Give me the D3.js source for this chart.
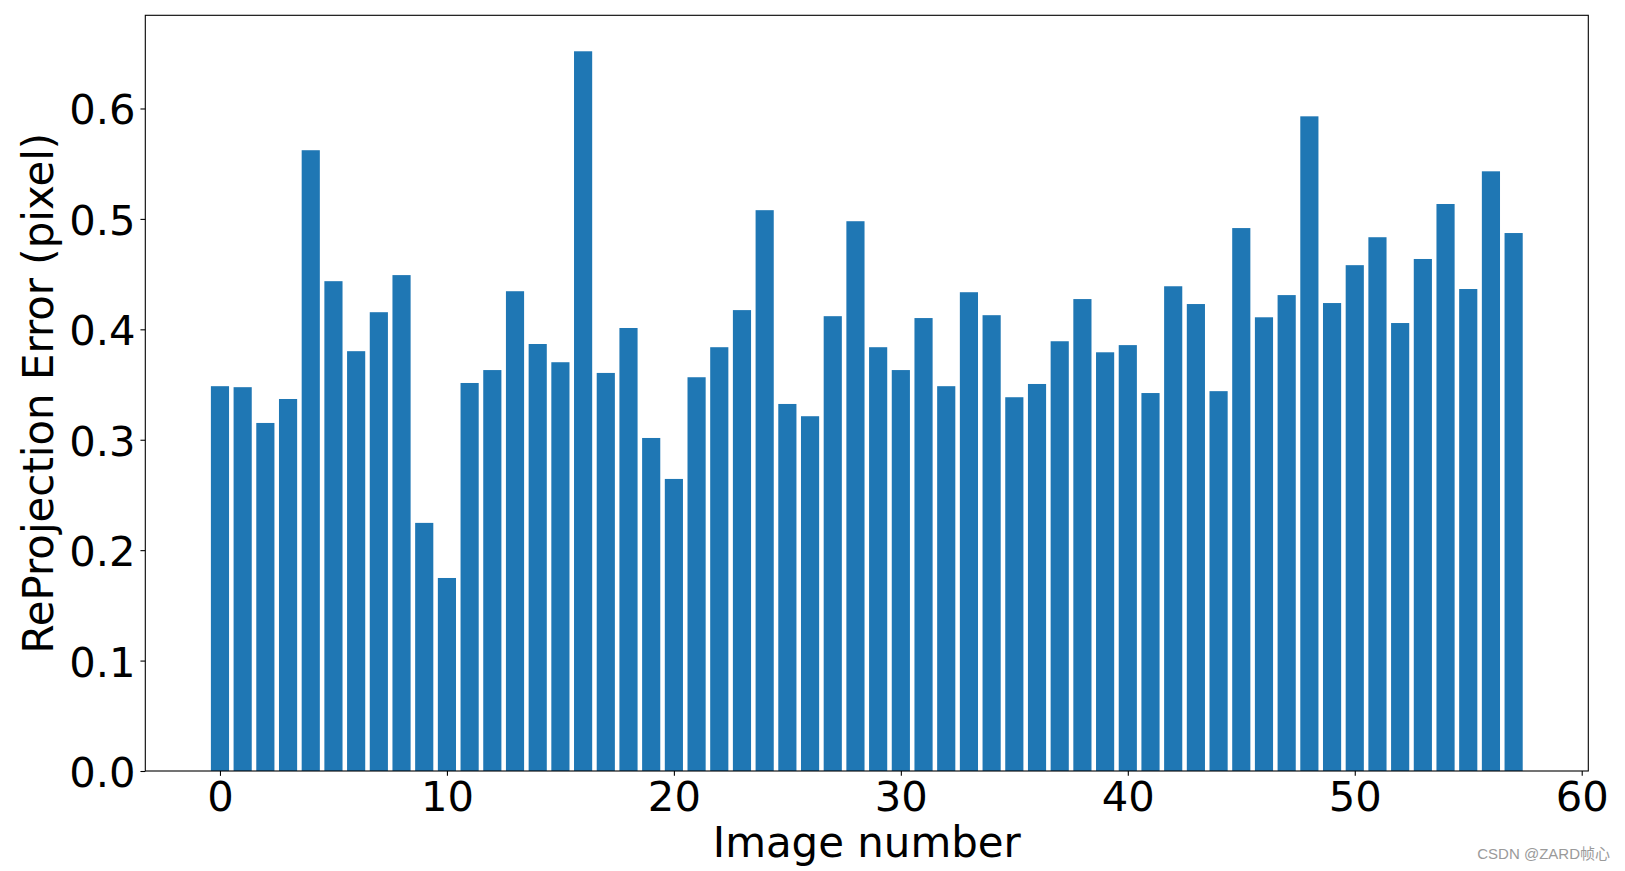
<!DOCTYPE html>
<html>
<head>
<meta charset="utf-8">
<script src="https://cdn.jsdelivr.net/npm/d3@7"></script>
<style>
	body { margin: 0; background: white; }
	text { font-family: "DejaVu Sans", sans-serif; }
</style>
</head>
<body>
<script>
/* Data */
var imageNumbers = d3.range(58);
var reprojErrors = [
	0.3485, 0.3476, 0.3152, 0.3369, 0.5622, 0.4436, 0.3802, 0.4155, 0.4491, 0.2247,
	0.1748, 0.3514, 0.3631, 0.4345, 0.3867, 0.3702, 0.6518, 0.3605, 0.4012, 0.3016,
	0.2645, 0.3566, 0.3838, 0.4174, 0.5079, 0.3324, 0.3213, 0.4119, 0.4979, 0.3838,
	0.3631, 0.4102, 0.3485, 0.4336, 0.4128, 0.3385, 0.3505, 0.3892, 0.4274, 0.3792,
	0.3857, 0.3423, 0.4390, 0.4229, 0.3440, 0.4917, 0.4109, 0.4310, 0.5929, 0.4238,
	0.4581, 0.4834, 0.4057, 0.4637, 0.5135, 0.4365, 0.5431, 0.4872
];
var xTicks = [0, 10, 20, 30, 40, 50, 60];
var yTicks = [0, 0.1, 0.2, 0.3, 0.4, 0.5, 0.6];

/* Display setup */
var displayArea = {width: 1625, height: 871},
	plot = {left: 145.3, right: 1588.3, top: 15.3, bottom: 771},
	barWidth = 0.8,
	tickLen = 4.86,
	tickFont = 41.7,
	labelFont = 41.9,
	svg = d3.select("body").append("svg")
		.attr("width", displayArea.width)
		.attr("height", displayArea.height);

// matplotlib style 5% margins around the data
var xLo = -barWidth / 2, xHi = imageNumbers.length - 1 + barWidth / 2,
	xPad = (xHi - xLo) * 0.05,
	x = d3.scaleLinear()
		.domain([xLo - xPad, xHi + xPad])
		.range([plot.left, plot.right]),
	y = d3.scaleLinear()
		.domain([0, d3.max(reprojErrors) * 1.05])
		.range([plot.bottom, plot.top]);

/* Bars */
svg.append("g")
	.selectAll("rect")
	.data(reprojErrors)
	.enter().append("rect")
		.attr("x", function(d, i) { return x(imageNumbers[i] - barWidth / 2); })
		.attr("y", function(d) { return y(d); })
		.attr("width", function(d, i) { return x(imageNumbers[i] + barWidth / 2) - x(imageNumbers[i] - barWidth / 2); })
		.attr("height", function(d) { return y(0) - y(d); })
		.style("fill", "#1f77b4");

/* Axes */
var xAxis = svg.append("g")
	.attr("transform", "translate(0," + plot.bottom + ")")
	.call(d3.axisBottom(x).tickValues(xTicks).tickSize(tickLen).tickPadding(tickLen).tickFormat(d3.format("d")));

var yAxis = svg.append("g")
	.attr("transform", "translate(" + plot.left + ",0)")
	.call(d3.axisLeft(y).tickValues(yTicks).tickSize(tickLen).tickPadding(tickLen).tickFormat(d3.format(".1f")));

[xAxis, yAxis].forEach(function(a) {
	a.select(".domain").remove();
	a.selectAll("line").style("stroke", "black").style("stroke-width", 1.1);
	a.selectAll("text")
		.style("font-size", tickFont + "px")
		.style("font-family", "'DejaVu Sans', sans-serif")
		.style("fill", "black");
});
xAxis.selectAll("text").attr("dy", "0.73em");
yAxis.selectAll("text").attr("dy", "0.37em");

// frame
svg.append("rect")
	.attr("x", plot.left)
	.attr("y", plot.top)
	.attr("width", plot.right - plot.left)
	.attr("height", plot.bottom - plot.top)
	.style("fill", "none")
	.style("stroke", "black")
	.style("stroke-width", 1.1);

/* Labels */
svg.append("text")
	.attr("x", (plot.left + plot.right) / 2)
	.attr("y", 857)
	.attr("text-anchor", "middle")
	.style("font-size", labelFont + "px")
	.text("Image number");

svg.append("text")
	.attr("transform", "translate(53," + ((plot.top + plot.bottom) / 2) + ") rotate(-90)")
	.attr("text-anchor", "middle")
	.style("font-size", labelFont + "px")
	.text("ReProjection Error (pixel)");

// watermark
svg.append("text")
	.attr("x", 1610)
	.attr("y", 859)
	.attr("text-anchor", "end")
	.style("font-family", "'Liberation Sans', 'Noto Sans CJK SC', sans-serif")
	.style("font-size", "15px")
	.style("fill", "#9a9a9a")
	.text("CSDN @ZARD帧心");
</script>
</body>
</html>
